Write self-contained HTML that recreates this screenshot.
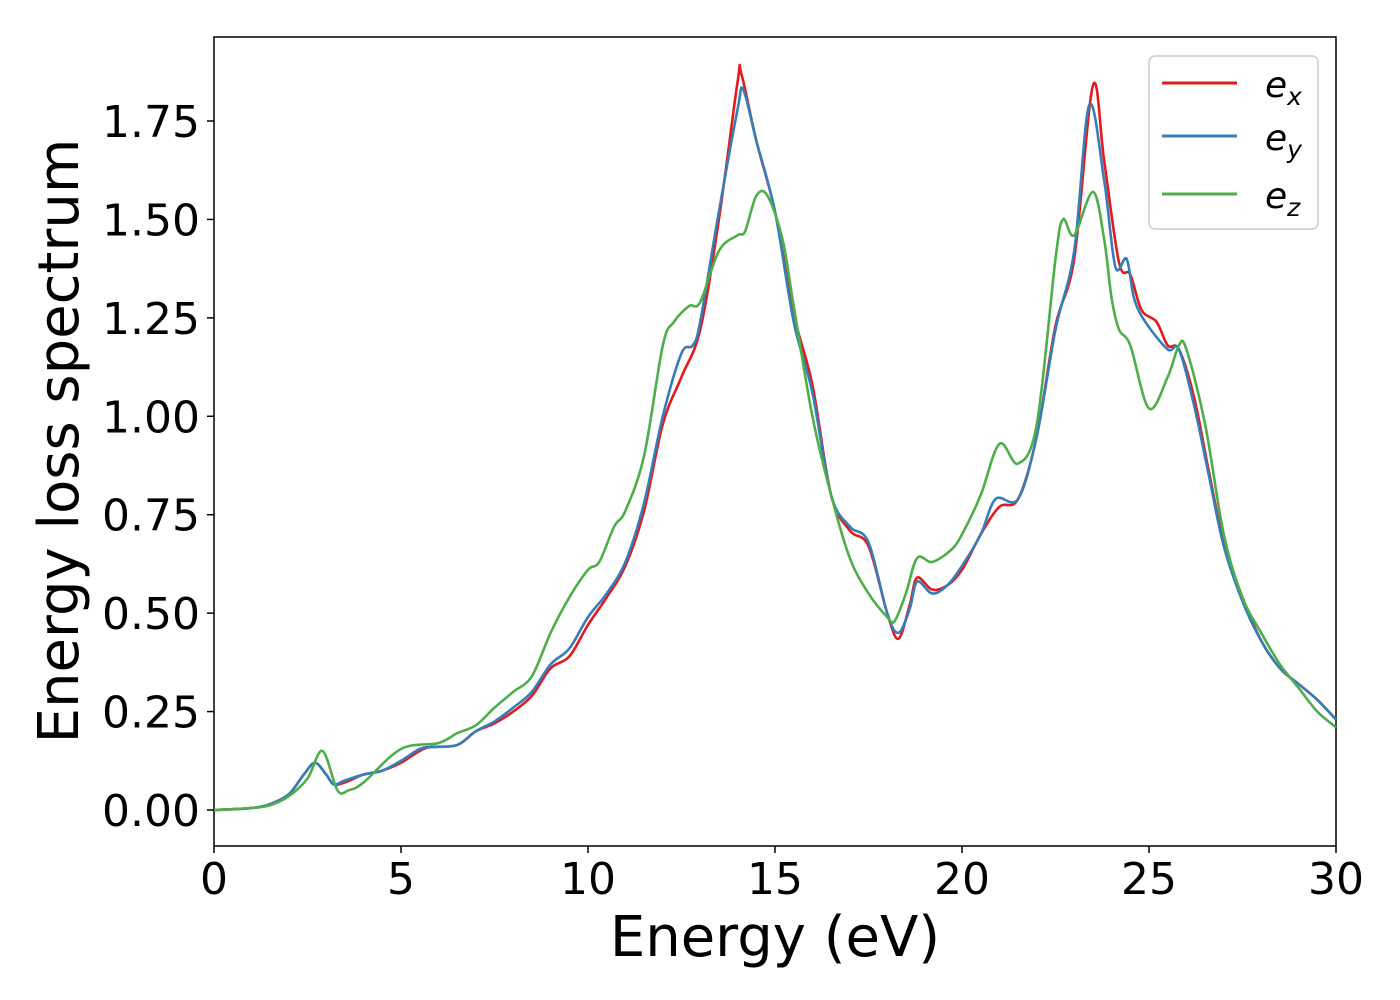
<!DOCTYPE html>
<html><head><meta charset="utf-8"><style>
body{margin:0;background:#fff;}
svg{display:block;font-family:"DejaVu Sans","Liberation Sans",sans-serif;}
</style></head><body>
<svg id="chart" width="1400" height="1000">
<rect x="214" y="37" width="1122" height="809" fill="#fff" stroke="#000" stroke-width="1.5"/>
<g id="ticks"></g>
<g id="series"></g>
<text x="775" y="956" text-anchor="middle" font-size="56">Energy (eV)</text>
<text transform="translate(78,441) rotate(-90)" text-anchor="middle" font-size="56">Energy loss spectrum</text>
<g>
<rect x="1149" y="56" width="169" height="173" rx="6" fill="#fff" stroke="#ccc" stroke-width="1.5"/>
<line x1="1162" y1="83" x2="1237" y2="83" stroke="#e41a1c" stroke-width="3"/>
<text x="1265" y="97" font-size="36" font-style="italic">e<tspan font-size="25" dy="8">x</tspan></text>
<line x1="1162" y1="136" x2="1237" y2="136" stroke="#377eb8" stroke-width="3"/>
<text x="1265" y="150" font-size="36" font-style="italic">e<tspan font-size="25" dy="8">y</tspan></text>
<line x1="1162" y1="194" x2="1237" y2="194" stroke="#4daf4a" stroke-width="3"/>
<text x="1265" y="208" font-size="36" font-style="italic">e<tspan font-size="25" dy="8">z</tspan></text>
</g>
</svg>
<script>
const xTicks=[0,5,10,15,20,25,30];
const yTicks=[0,0.25,0.5,0.75,1.0,1.25,1.5,1.75];
const exE=[0,1,1.5,2,2.4,2.7,3.0,3.2,3.5,4,4.5,5,5.5,5.8,6.5,7,7.5,8,8.5,9,9.5,10,10.5,11,11.5,12,12.5,13,13.5,14,14.1,14.5,15,15.5,16,16.5,17,17.5,18,18.3,18.6,18.8,19.2,19.6,20,20.5,21,21.5,22,22.5,23,23.5,23.8,24.2,24.5,24.8,25.2,25.5,25.8,26.2,26.6,27,27.5,28,28.5,29,29.5,30];
const exV=[0,0.005,0.015,0.04,0.09,0.12,0.09,0.065,0.07,0.09,0.10,0.12,0.15,0.16,0.165,0.20,0.22,0.25,0.29,0.36,0.39,0.47,0.54,0.62,0.76,0.98,1.10,1.22,1.50,1.85,1.87,1.70,1.52,1.26,1.08,0.80,0.71,0.67,0.50,0.435,0.52,0.59,0.56,0.57,0.61,0.70,0.77,0.79,0.95,1.23,1.40,1.84,1.65,1.39,1.36,1.27,1.24,1.18,1.17,1.05,0.86,0.68,0.54,0.43,0.36,0.32,0.28,0.23];
const eyE=[0,1,1.5,2,2.4,2.7,3.0,3.2,3.5,4,4.5,5,5.5,5.8,6.5,7,7.5,8,8.5,9,9.5,10,10.5,11,11.5,12,12.5,12.8,13,13.5,14,14.15,14.5,15,15.5,16,16.5,17,17.5,18,18.3,18.6,18.8,19.2,19.6,20,20.5,20.9,21.5,22,22.5,23,23.4,23.8,24.1,24.4,24.6,24.9,25.5,25.8,26.2,26.6,27,27.5,28,28.5,29,29.5,30];
const eyV=[0,0.005,0.015,0.04,0.09,0.12,0.09,0.065,0.075,0.09,0.10,0.125,0.155,0.16,0.165,0.20,0.225,0.26,0.30,0.37,0.41,0.49,0.55,0.63,0.78,1.00,1.16,1.18,1.24,1.52,1.78,1.83,1.70,1.52,1.24,1.06,0.80,0.72,0.68,0.50,0.45,0.51,0.58,0.55,0.57,0.62,0.70,0.79,0.79,0.95,1.22,1.42,1.79,1.60,1.38,1.40,1.30,1.24,1.17,1.17,1.03,0.85,0.67,0.53,0.43,0.36,0.32,0.28,0.23];
const ezE=[0,1,1.5,2,2.5,2.9,3.3,3.6,4,5,6,6.5,7,7.5,8,8.5,9,9.5,10,10.3,10.7,11,11.5,12,12.3,12.7,13,13.5,14,14.2,14.5,14.8,15.2,15.5,16,16.5,17,17.5,18,18.2,18.5,18.8,19.2,19.7,20,20.5,21,21.5,22,22.5,22.7,23,23.5,23.8,24,24.2,24.5,25,25.5,25.8,26,26.5,27,27.5,28,28.5,29,29.5,30];
const ezV=[0,0.005,0.012,0.035,0.08,0.15,0.05,0.05,0.07,0.155,0.17,0.195,0.215,0.26,0.30,0.34,0.45,0.54,0.61,0.63,0.72,0.76,0.90,1.18,1.24,1.28,1.29,1.42,1.46,1.47,1.56,1.56,1.45,1.28,1.0,0.80,0.64,0.55,0.49,0.48,0.55,0.64,0.63,0.66,0.70,0.80,0.93,0.88,0.98,1.40,1.50,1.46,1.57,1.45,1.30,1.22,1.18,1.02,1.10,1.18,1.17,0.98,0.70,0.54,0.45,0.37,0.31,0.25,0.21];
const X=e=>214+e*(1122/30);
const Y=v=>810-v*393.7;
const NS="http://www.w3.org/2000/svg";
const tg=document.getElementById('ticks');
xTicks.forEach(t=>{
  const l=document.createElementNS(NS,'line');
  
  
  l.setAttribute('x1',X(t));l.setAttribute('x2',X(t));l.setAttribute('y1',846);l.setAttribute('y2',853);l.setAttribute('stroke','#000');l.setAttribute('stroke-width','1.5');tg.appendChild(l);
  const tx=document.createElementNS(NS,'text');
  
  
  tx.setAttribute('x',X(t));tx.setAttribute('y',894);tx.setAttribute('text-anchor','middle');tx.setAttribute('font-size','44');tx.textContent=t;tg.appendChild(tx);
});
yTicks.forEach(t=>{
  const l=document.createElementNS(NS,'line');
  
  
  l.setAttribute('x1',207);l.setAttribute('x2',214);l.setAttribute('y1',Y(t));l.setAttribute('y2',Y(t));l.setAttribute('stroke','#000');l.setAttribute('stroke-width','1.5');tg.appendChild(l);
  const tx=document.createElementNS(NS,'text');
  
  
  tx.setAttribute('x',200);tx.setAttribute('y',Y(t)+16);tx.setAttribute('text-anchor','end');tx.setAttribute('font-size','44');tx.textContent=t.toFixed(2);tg.appendChild(tx);
});
function pathD(E,V){
  const p=E.map((e,i)=>[X(e),Y(V[i])]);
  let d='M'+p[0][0]+','+p[0][1];
  for(let i=0;i<p.length-1;i++){
    const p0=p[i-1]||p[i],p1=p[i],p2=p[i+1],p3=p[i+2]||p2;
    const c1=[p1[0]+(p2[0]-p0[0])/6,p1[1]+(p2[1]-p0[1])/6];
    const c2=[p2[0]-(p3[0]-p1[0])/6,p2[1]-(p3[1]-p1[1])/6];
    d+=' C'+c1+' '+c2+' '+p2;
  }
  return d;
}
const sg=document.getElementById('series');
[[exE,exV,'#e41a1c','series-ex'],[eyE,eyV,'#377eb8','series-ey'],[ezE,ezV,'#4daf4a','series-ez']].forEach(s=>{
  const p=document.createElementNS(NS,'path');
  
  
  p.setAttribute('d',pathD(s[0],s[1]));p.setAttribute('fill','none');p.setAttribute('stroke',s[2]);p.setAttribute('stroke-width','2.6');
  sg.appendChild(p);
});
</script>
</body></html>
